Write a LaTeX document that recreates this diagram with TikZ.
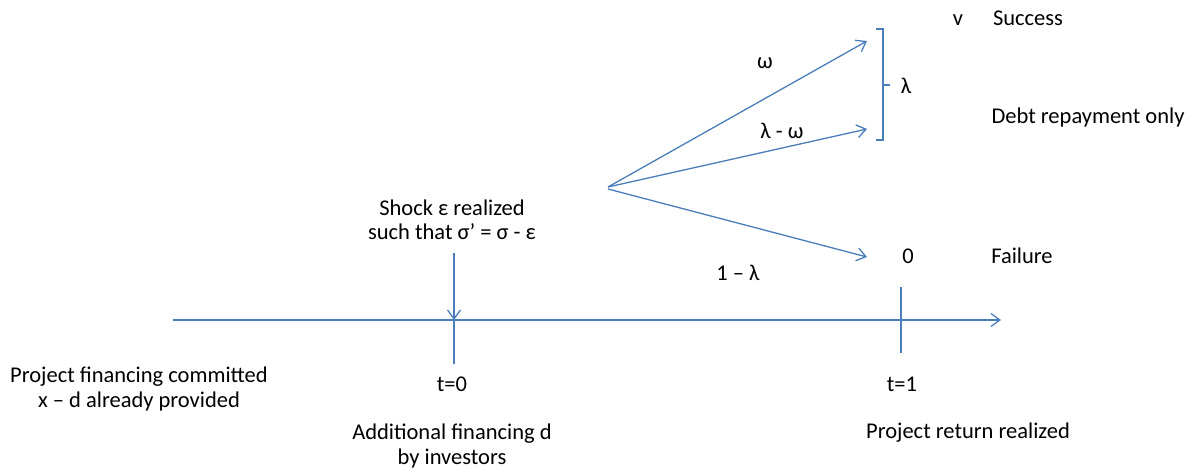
\documentclass[tikz,border=0pt]{standalone}
\usepackage{fontspec}
\setmainfont{Carlito}
\usetikzlibrary{arrows.meta}
\definecolor{lineblue}{HTML}{4A7EBB}
\begin{document}
\begin{tikzpicture}[x=1pt,y=-1pt,
  conn/.style={draw=lineblue,line width=1.3pt},
  arr/.style={conn,-{Straight Barb[length=9pt,width=13pt,line width=1.3pt]}},
  lbl/.style={inner sep=0pt,font=\fontsize{22.5}{24.5}\selectfont,align=center}]
\useasboundingbox (0,0) rectangle (1197,473);
% coordinates
\coordinate (tlstart) at (173,320);
\coordinate (tlend) at (1001,320);
\coordinate (s0top) at (454,253);
\coordinate (s0mid) at (454,320);
\coordinate (s0bot) at (454,364);
\coordinate (s1top) at (901,287);
\coordinate (s1bot) at (901,353);
\coordinate (fan) at (608,187);
\coordinate (fanb) at (608,189);
\coordinate (up) at (867,41);
\coordinate (mid) at (867,129);
\coordinate (low) at (867,257);
\coordinate (bt1) at (876,29);
\coordinate (bt2) at (883,29);
\coordinate (bb1) at (876,140);
\coordinate (bb2) at (883,140);
\coordinate (bm1) at (883,85);
\coordinate (bm2) at (890,85);
% timeline
\draw[arr] (tlstart) -- (tlend);
\draw[arr] (s0top) -- (s0mid);
\draw[conn] (s0mid) -- (s0bot);
\draw[conn] (s1top) -- (s1bot);
% fan
\draw[arr] (fan) -- (up);
\draw[arr] (fan) -- (mid);
\draw[arr] (fanb) -- (low);
% bracket
\draw[conn] (bt1) -- (bt2) -- (bb2) -- (bb1);
\draw[conn] (bm1) -- (bm2);
% labels
\node[lbl] (lam) at (906,86) {λ};
\node[lbl] (om) at (765,63) {ω};
\node[lbl] (lmo) at (782,131) {λ - ω};
\node[lbl] (oml) at (738,273) {1 – λ};
\node[lbl] (v) at (958,20) {v};
\node[lbl] (succ) at (1028,18) {Success};
\node[lbl] (debt) at (1088,118) {Debt repayment only};
\node[lbl] (zero) at (908,256) {0};
\node[lbl] (fail) at (1022,256) {Failure};
\node[lbl] (shock) at (452,220) {Shock ε realized\\such that σ’ = σ - ε};
\node[lbl] (t0) at (452,384) {t=0};
\node[lbl] (t1) at (902,384) {t=1};
\node[lbl] (proj) at (139,389) {Project financing committed\\x – d already provided};
\node[lbl] (add) at (452,446) {Additional financing d\\by investors};
\node[lbl] (ret) at (968,433) {Project return realized};
\end{tikzpicture}
\end{document}
